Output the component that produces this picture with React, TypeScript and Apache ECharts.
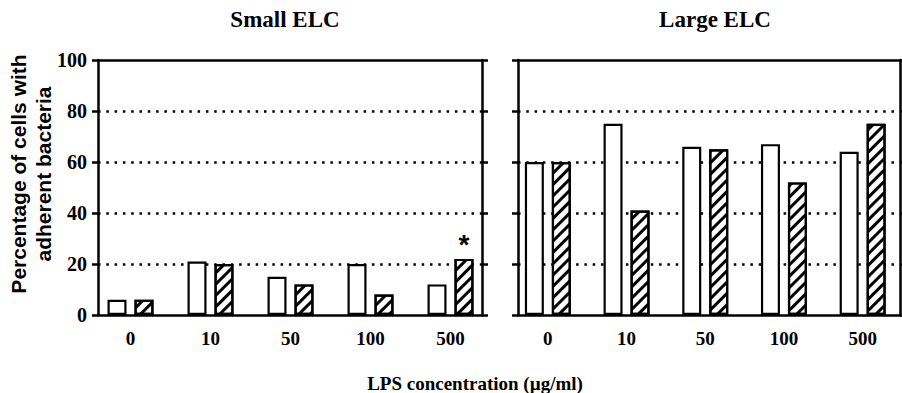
import React, { useEffect, useRef } from "react";
import * as echarts from "echarts";

const categories = ["0", "10", "50", "100", "500"];
const smallOpen = [6, 21, 15, 20, 12];
const smallHatched = [6, 20, 12, 8, 22];
const smallMarks = ["", "", "", "", "*"];
const largeOpen = [60, 75, 66, 67, 64];
const largeHatched = [60, 41, 65, 52, 75];
const yTicks = [0, 20, 40, 60, 80, 100];

const SERIF = "'Liberation Serif', 'Times New Roman', serif";
const SANS = "'Liberation Sans', Arial, sans-serif";

export default function App() {
  const ref = useRef<HTMLDivElement>(null);
  useEffect(() => {
    if (!ref.current) return;
    const chart = echarts.init(ref.current, null, { renderer: "svg" });
    const top = 60;
    const height = 255;
    const frameLine = { show: true, onZero: false, lineStyle: { color: "#000", width: 2.5 } };
    const frameX = (gridIndex: number, position: string) => ({
      type: "value",
      gridIndex,
      position,
      min: 0,
      max: 1,
      axisLine: frameLine,
      axisTick: { show: false },
      axisLabel: { show: false },
      splitLine: { show: false },
    });
    const frameY = (gridIndex: number, position: string, labels: boolean, split: boolean) => ({
      type: "value",
      gridIndex,
      position,
      min: yTicks[0],
      max: yTicks[yTicks.length - 1],
      interval: yTicks[1] - yTicks[0],
      axisLine: frameLine,
      axisTick: { show: true, length: 6, lineStyle: { color: "#000", width: 2.5 } },
      axisLabel: {
        show: labels,
        margin: 11,
        color: "#000",
        fontFamily: SERIF,
        fontWeight: "bold",
        fontSize: 20,
      },
      splitLine: {
        show: split,
        showMinLine: false,
        showMaxLine: false,
        lineStyle: { color: "#000", width: 2.5, type: [2.5, 5.8] },
      },
    });
    const catX = (gridIndex: number) => ({
      type: "category",
      gridIndex,
      data: categories,
      axisLine: { show: false },
      axisTick: { show: false },
      axisLabel: {
        margin: 14,
        color: "#000",
        fontFamily: SERIF,
        fontWeight: "bold",
        fontSize: 19,
      },
    });
    const hiddenY = (gridIndex: number) => ({
      type: "value",
      gridIndex,
      min: yTicks[0],
      max: yTicks[yTicks.length - 1],
      show: false,
    });
    const openStyle = { color: "#fff", borderColor: "#000", borderWidth: 2.2 };
    const hatchStyle = {
      color: "#fff",
      borderColor: "#000",
      borderWidth: 2.2,
      decal: {
        symbol: "rect",
        symbolSize: 1,
        dashArrayX: [1, 0],
        dashArrayY: [2.2, 4.2],
        rotation: -Math.PI / 4,
        color: "#000",
      },
    };
    const barCommon = { type: "bar", barWidth: 19, barGap: "42%" };

    chart.setOption({
      animation: false,
      backgroundColor: "#fff",
      title: [
        {
          text: "Small ELC",
          left: 280,
          top: 3,
          textAlign: "center",
          textStyle: { fontFamily: SERIF, fontWeight: "bold", fontSize: 23, color: "#000" },
        },
        {
          text: "Large ELC",
          left: 710,
          top: 3,
          textAlign: "center",
          textStyle: { fontFamily: SERIF, fontWeight: "bold", fontSize: 23, color: "#000" },
        },
        {
          text: "LPS concentration (µg/ml)",
          left: 470,
          top: 369,
          textAlign: "center",
          textStyle: { fontFamily: SERIF, fontWeight: "bold", fontSize: 19, color: "#000" },
        },
      ],
      graphic: [
        {
          type: "text",
          x: 31,
          y: 174,
          rotation: Math.PI / 2,
          style: {
            text: "Percentage of cells with\nadherent bacteria",
            fontFamily: SANS,
            fontWeight: "bold",
            fontSize: 21,
            lineHeight: 25,
            textAlign: "center",
            textVerticalAlign: "middle",
            fill: "#000",
          },
        },
      ],
      grid: [
        { left: 98, top, width: 384, height },
        { left: 518, top, width: 382, height },
        { left: 90.5, top, width: 400, height },
        { left: 508.5, top, width: 400, height },
      ],
      xAxis: [
        frameX(0, "bottom"),
        frameX(0, "top"),
        frameX(1, "bottom"),
        frameX(1, "top"),
        catX(2),
        catX(3),
      ],
      yAxis: [
        frameY(0, "left", true, true),
        frameY(0, "right", false, false),
        frameY(1, "left", false, true),
        frameY(1, "right", false, false),
        hiddenY(2),
        hiddenY(3),
      ],
      series: [
        { ...barCommon, name: "Small open", xAxisIndex: 4, yAxisIndex: 4, data: smallOpen, itemStyle: openStyle },
        {
          ...barCommon,
          name: "Small hatched",
          xAxisIndex: 4,
          yAxisIndex: 4,
          itemStyle: hatchStyle,
          data: smallHatched.map((v, i) => ({
            value: v,
            label: {
              show: smallMarks[i] !== "",
              formatter: smallMarks[i],
              position: "top",
              distance: 0,
              fontFamily: SANS,
              fontWeight: "bold",
              fontSize: 28,
              color: "#000",
            },
          })),
        },
        { ...barCommon, name: "Large open", xAxisIndex: 5, yAxisIndex: 5, data: largeOpen, itemStyle: openStyle },
        { ...barCommon, name: "Large hatched", xAxisIndex: 5, yAxisIndex: 5, data: largeHatched, itemStyle: hatchStyle },
      ],
    });
    return () => chart.dispose();
  }, []);
  return <div ref={ref} style={{ width: 902, height: 393, position: "absolute", left: 0, top: 0 }} />;
}
